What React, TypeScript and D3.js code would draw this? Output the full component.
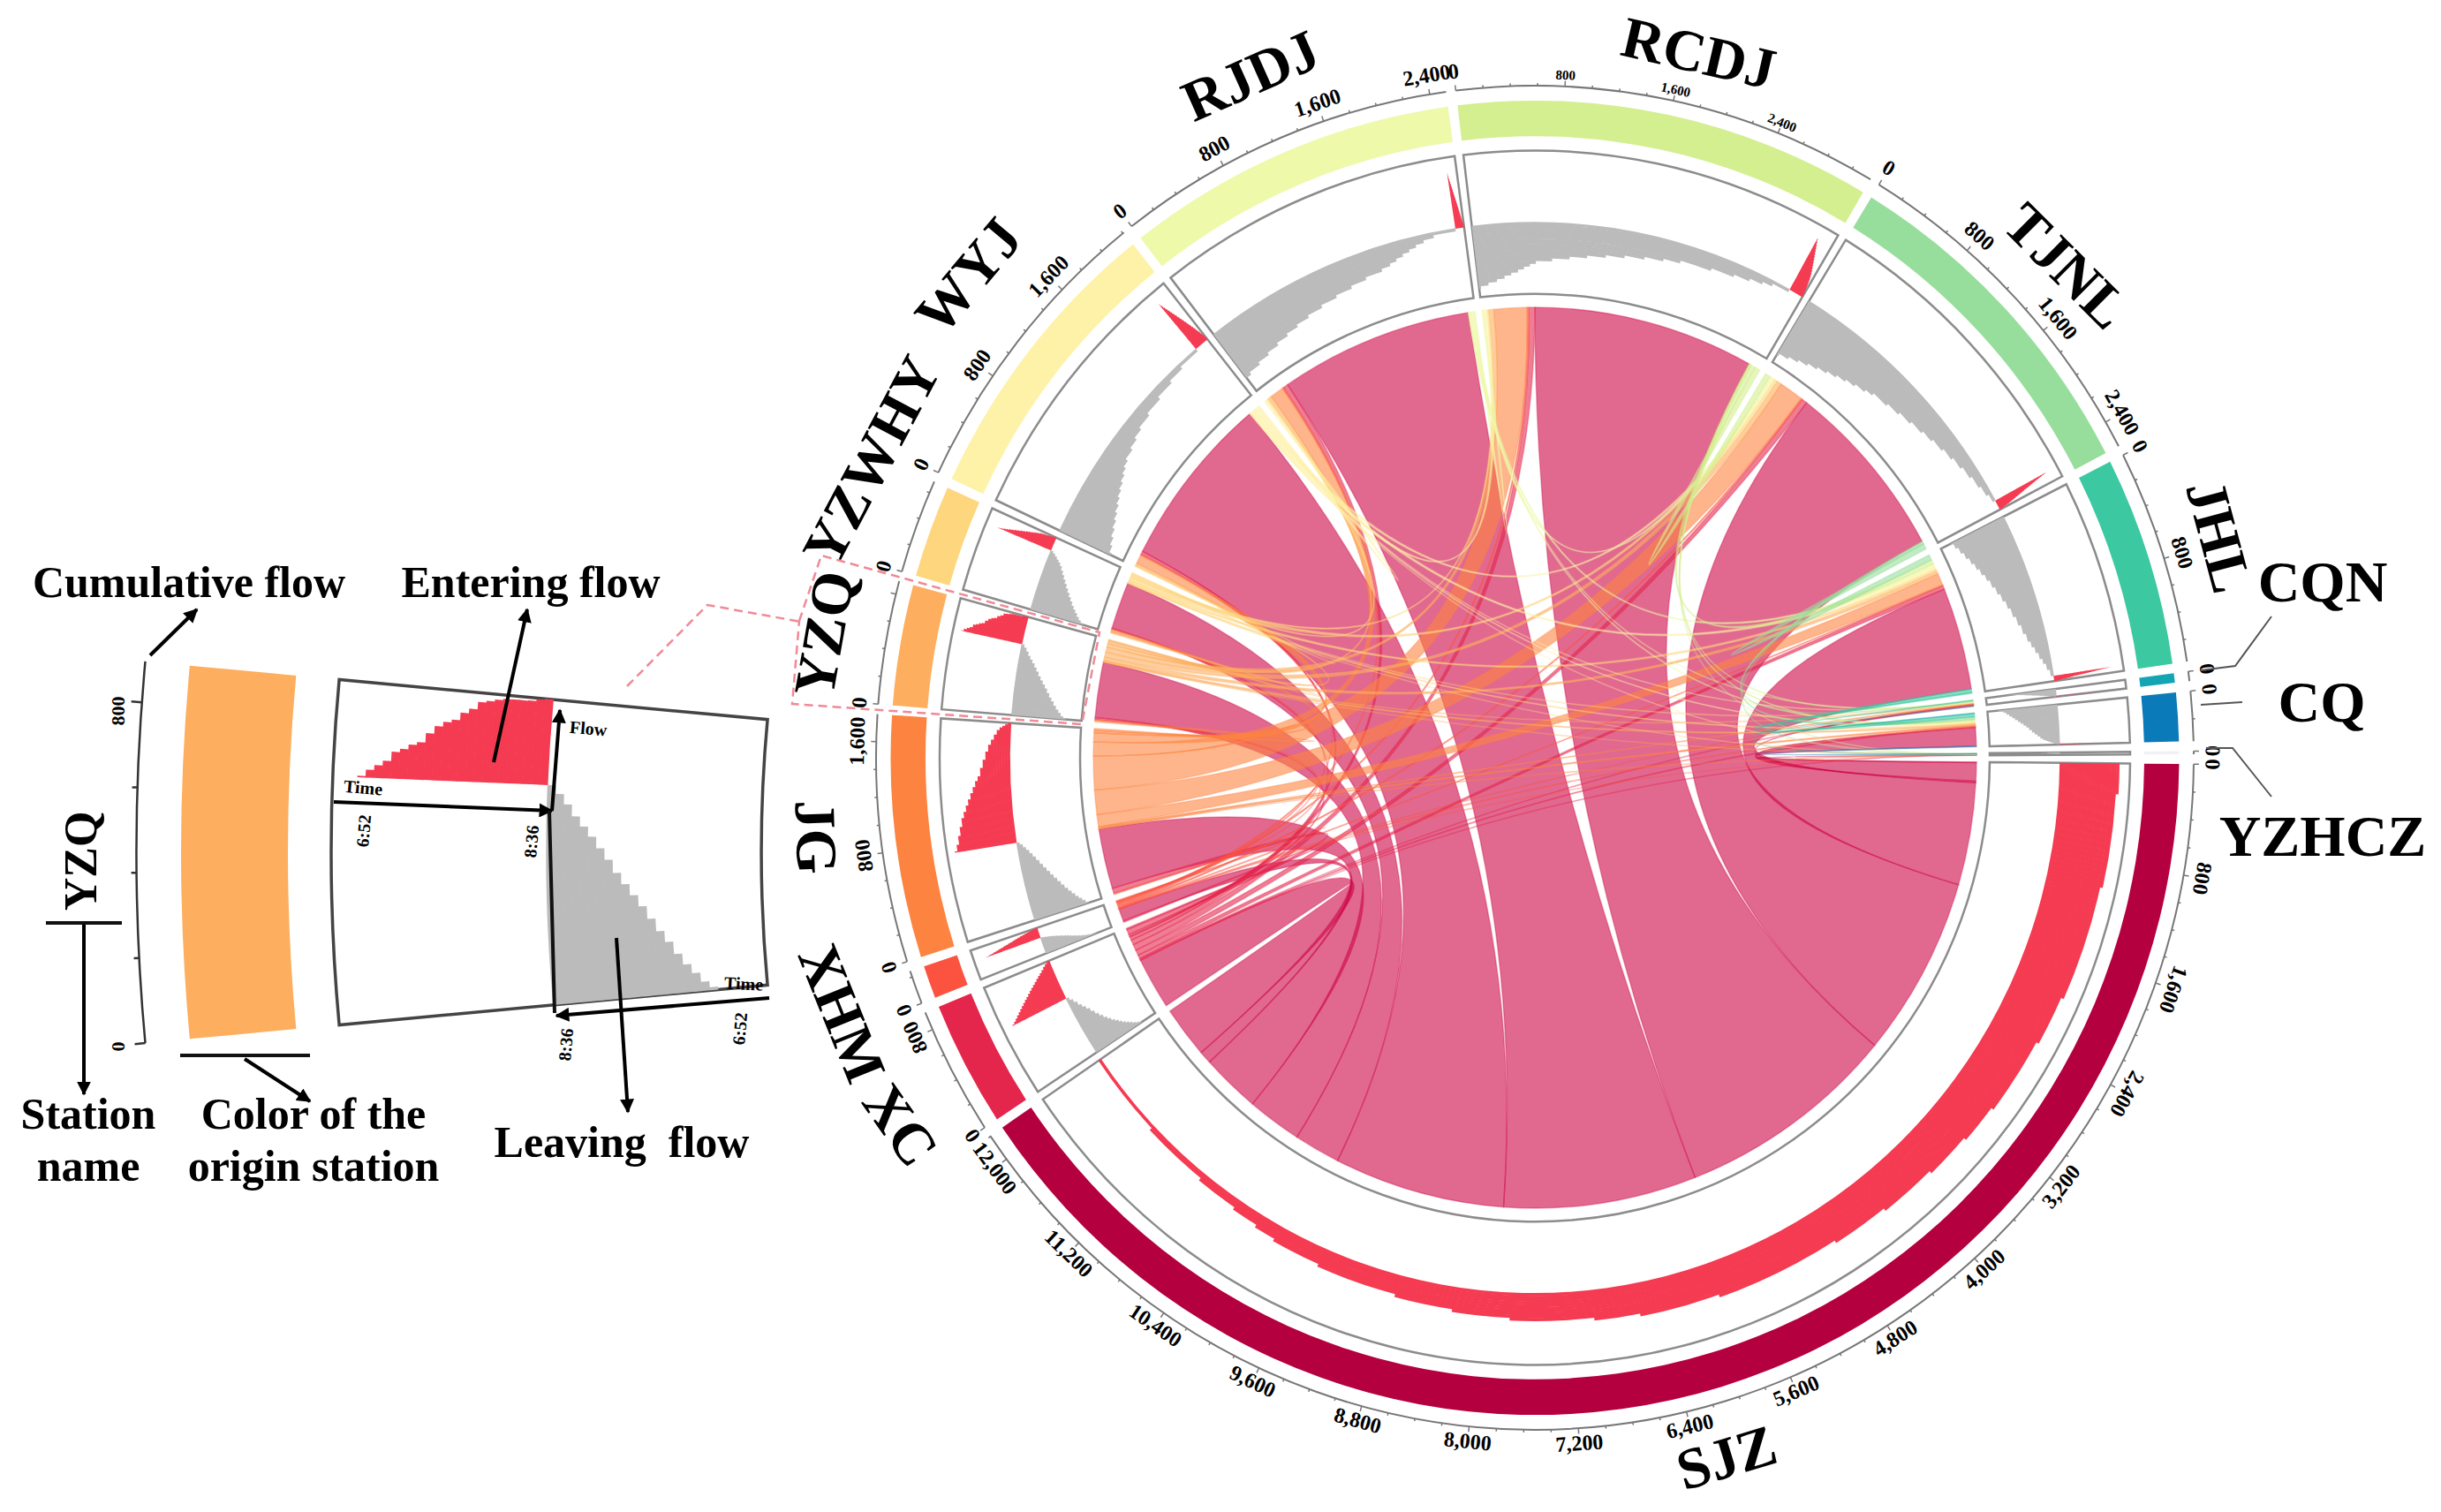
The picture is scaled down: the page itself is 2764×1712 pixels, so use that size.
import { useRef, useEffect } from 'react'
import * as d3 from 'd3'

const stations = ['SJZ', 'XC', 'XHM', 'JG', 'YZQ', 'YZWHY', 'WYJ', 'RJDJ', 'RCDJ', 'TJNL', 'JHL', 'CQN', 'CQ', 'YZHCZ']
const colors = ['#b5003f', '#e4264c', '#fb5340', '#fd8340', '#fdae5e', '#fed67e', '#fef2a9', '#eef9aa', '#d3ef90', '#97de9d', '#3cc8a0', '#14a5b4', '#0b7ab8', '#f2f0f7']
const ribbonColors = ['#cd0546', '#e4264c', '#fb5340', '#fd8340', '#fdae5e', '#fed67e', '#fef2a9', '#eef9aa', '#d3ef90', '#97de9d', '#3cc8a0', '#14a5b4', '#0b7ab8', '#5e4fa2']

// origin -> destination flows, columns follow `stations`
const flowSJZ = [0, 560, 135, 650, 600, 510, 1890, 2130, 2440, 1960, 1110, 15, 200, 5]
const flowXC = [0, 0, 15, 55, 20, 10, 35, 55, 65, 60, 40, 5, 12, 2]
const flowXHM = [0, 0, 0, 12, 5, 3, 10, 15, 20, 15, 8, 1, 5, 1]
const flowJG = [0, 0, 0, 0, 20, 25, 98, 150, 365, 266, 130, 8, 15, 3]
const flowYZQ = [0, 0, 0, 0, 0, 15, 30, 40, 55, 55, 35, 5, 15, 1]
const flowYZWHY = [0, 0, 0, 0, 0, 0, 10, 20, 20, 35, 25, 3, 10, 1]
const flowWYJ = [0, 0, 0, 0, 0, 0, 0, 30, 35, 30, 30, 3, 8, 1]
const flowRJDJ = [0, 0, 0, 0, 0, 0, 0, 0, 20, 25, 25, 3, 8, 0]
const flowRCDJ = [0, 0, 0, 0, 0, 0, 0, 0, 0, 60, 48, 10, 15, 1]
const flowTJNL = [0, 0, 0, 0, 0, 0, 0, 0, 0, 0, 60, 5, 25, 1]
const flowJHL = [0, 0, 0, 0, 0, 0, 0, 0, 0, 0, 0, 8, 38, 1]
const flowCQN = [0, 0, 0, 0, 0, 0, 0, 0, 0, 0, 0, 0, 4, 0]
const flowCQ = [0, 0, 0, 0, 0, 0, 0, 0, 0, 0, 0, 0, 0, 5]
const flowYZHCZ = [0, 0, 0, 0, 0, 0, 0, 0, 0, 0, 0, 0, 0, 0]
const flows = [flowSJZ, flowXC, flowXHM, flowJG, flowYZQ, flowYZWHY, flowWYJ, flowRJDJ, flowRCDJ, flowTJNL, flowJHL, flowCQN, flowCQ, flowYZHCZ]

// cumulative leaving flow per time bin, 6:52 to 8:36
const leaveSJZ = [0, 0, 0, 0, 0, 0, 0, 0, 0, 0, 0, 0, 0, 0, 0, 0, 0, 0, 0, 0, 0, 0, 0, 0, 0, 0]
const leaveXC = [0, 0, 0, 0, 0, 0, 10, 25, 40, 60, 80, 100, 125, 150, 175, 205, 235, 270, 305, 345, 385, 420, 455, 495, 530, 560]
const leaveXHM = [0, 0, 0, 0, 0, 0, 4, 8, 14, 20, 28, 36, 44, 54, 64, 74, 84, 93, 102, 110, 118, 125, 132, 138, 144, 150]
const leaveJG = [0, 0, 0, 0, 0, 10, 40, 70, 100, 135, 170, 205, 245, 285, 325, 365, 405, 445, 485, 525, 565, 600, 635, 665, 695, 717]
const leaveYZQ = [0, 0, 0, 0, 0, 0, 10, 30, 60, 90, 125, 165, 200, 240, 280, 315, 350, 385, 425, 460, 495, 525, 555, 590, 620, 645]
const leaveYZWHY = [0, 0, 0, 0, 0, 0, 15, 35, 60, 90, 120, 150, 185, 220, 255, 290, 325, 360, 395, 430, 465, 490, 510, 530, 548, 563]
const leaveWYJ = [0, 0, 0, 0, 0, 20, 90, 170, 250, 330, 400, 475, 540, 610, 680, 750, 810, 880, 990, 1090, 1190, 1340, 1520, 1700, 1860, 2073]
const leaveRJDJ = [0, 0, 0, 0, 0, 0, 60, 190, 320, 450, 580, 710, 850, 1010, 1180, 1350, 1510, 1680, 1770, 1840, 1910, 1980, 2050, 2130, 2230, 2440]
const leaveRCDJ = [0, 0, 0, 20, 100, 190, 270, 340, 410, 470, 530, 590, 750, 920, 1090, 1270, 1450, 1640, 1820, 1980, 2280, 2500, 2650, 2770, 2860, 3020]
const leaveTJNL = [0, 0, 0, 20, 120, 220, 320, 420, 520, 620, 720, 820, 930, 1010, 1180, 1320, 1460, 1600, 1720, 1850, 1970, 2090, 2210, 2330, 2430, 2506]
const leaveJHL = [0, 0, 0, 0, 15, 70, 140, 210, 280, 350, 420, 490, 570, 650, 730, 810, 900, 990, 1080, 1160, 1220, 1280, 1340, 1390, 1450, 1511]
const leaveCQN = [0, 0, 0, 0, 0, 0, 0, 0, 2, 4, 7, 10, 13, 17, 21, 25, 29, 33, 37, 41, 45, 49, 53, 57, 61, 66]
const leaveCQ = [0, 0, 0, 0, 5, 15, 30, 50, 70, 90, 110, 130, 150, 170, 190, 215, 240, 260, 280, 300, 315, 325, 335, 345, 350, 355]
const leaveYZHCZ = [0, 0, 0, 0, 0, 0, 0, 0, 0, 0, 0, 0, 0, 0, 0, 0, 0, 0, 1, 2, 3, 5, 7, 9, 11, 12]
const leaving = [leaveSJZ, leaveXC, leaveXHM, leaveJG, leaveYZQ, leaveYZWHY, leaveWYJ, leaveRJDJ, leaveRCDJ, leaveTJNL, leaveJHL, leaveCQN, leaveCQ, leaveYZHCZ]

// cumulative entering flow per time bin, 6:52 to 8:36
const enterSJZ = [0, 0, 0, 0, 250, 1020, 1980, 2400, 3060, 3400, 3800, 4300, 4800, 5900, 6600, 7000, 7740, 8250, 8770, 9500, 9950, 10150, 10400, 10800, 11430, 12205]
const enterXC = [0, 0, 0, 0, 7, 22, 40, 58, 75, 92, 110, 127, 145, 162, 180, 197, 215, 232, 250, 267, 285, 302, 320, 340, 358, 374]
const enterXHM = [0, 0, 0, 0, 0, 3, 8, 12, 17, 22, 26, 31, 36, 40, 45, 50, 55, 60, 65, 70, 74, 79, 83, 87, 91, 95]
const enterJG = [0, 0, 0, 10, 60, 130, 200, 270, 320, 370, 420, 470, 520, 570, 610, 680, 750, 820, 880, 925, 970, 1010, 1035, 1050, 1065, 1080]
const enterYZQ = [0, 0, 0, 4, 21, 34, 47, 72, 81, 94, 102, 128, 149, 162, 170, 191, 204, 225, 230, 236, 240, 241, 241, 242, 248, 251]
const enterYZWHY = [0, 0, 0, 0, 0, 3, 8, 14, 20, 27, 34, 41, 48, 55, 62, 69, 76, 83, 90, 97, 104, 108, 111, 115, 120, 124]
const enterWYJ = [0, 0, 0, 0, 0, 4, 11, 18, 25, 32, 39, 46, 53, 60, 67, 74, 81, 88, 95, 102, 109, 115, 121, 127, 132, 137]
const enterRJDJ = [0, 0, 0, 0, 0, 0, 3, 6, 10, 14, 18, 22, 26, 30, 34, 38, 42, 46, 50, 54, 58, 62, 66, 70, 75, 81]
const enterRCDJ = [0, 0, 0, 0, 0, 6, 14, 22, 30, 38, 46, 54, 62, 70, 78, 86, 94, 102, 108, 114, 118, 122, 125, 128, 131, 134]
const enterTJNL = [0, 0, 0, 0, 0, 4, 8, 12, 16, 20, 24, 28, 32, 36, 40, 45, 50, 55, 60, 65, 70, 74, 78, 82, 87, 91]
const enterJHL = [0, 0, 0, 0, 0, 2, 4, 6, 8, 10, 12, 14, 16, 18, 20, 22, 24, 26, 28, 31, 33, 36, 38, 41, 44, 47]
const enterCQN = [0, 0, 0, 0, 0, 0, 0, 0, 0, 0, 0, 0, 1, 1, 1, 1, 2, 2, 2, 2, 3, 3, 3, 3, 4, 4]
const enterCQ = [0, 0, 0, 0, 0, 0, 0, 0, 0, 0, 0, 1, 1, 1, 2, 2, 2, 3, 3, 3, 4, 4, 4, 4, 5, 5]
const enterYZHCZ = [0, 0, 0, 0, 0, 0, 0, 0, 0, 0, 0, 0, 0, 0, 0, 0, 0, 0, 0, 0, 0, 0, 0, 0, 0, 0]
const entering = [enterSJZ, enterXC, enterXHM, enterJG, enterYZQ, enterYZWHY, enterWYJ, enterRJDJ, enterRCDJ, enterTJNL, enterJHL, enterCQN, enterCQ, enterYZHCZ]

const stationLabels: [string, number, number, number][] = [
  ['RJDJ', 1419, 92, -24], ['RCDJ', 1922, 67, 13], ['TJNL', 2335, 306, 45], ['JHL', 2506, 609, 75],
  ['CQN', 2630, 666, 0], ['CQ', 2629, 802, 0], ['YZHCZ', 2630, 954, 0], ['SJZ', 1957, 1657, -17],
  ['XC', 1014, 1278, 55], ['XHM', 947, 1150, 68], ['JG', 917, 948, 88], ['YZQ', 940, 719, -80],
  ['YZWHY', 993, 525, -62], ['WYJ', 1102, 317, -50],
]

const GAP = 0.85
const START = -6.9
const RAD = Math.PI / 180
const fmt = d3.format(',')
const SERIF = '"Liberation Serif", serif'
const TRACK_GREY = '#bbbbbb'
const TRACK_RED = '#f53b52'

const App = () => {
  const ref = useRef<SVGSVGElement>(null)

  useEffect(() => {
    if (!ref.current) return
    const svg = d3.select(ref.current)
    svg.selectAll('*').remove()

    const n = stations.length
    const inTotal = stations.map((_, j) => d3.sum(flows, (row) => row[j]))
    const outTotal = flows.map((row) => d3.sum(row))
    const totals = inTotal.map((v, i) => v + outTotal[i])
    const k = (360 - n * GAP) / d3.sum(totals)

    // segments run clockwise from RCDJ, which sits just left of the top
    const order = d3.range(8, 14).concat(d3.range(0, 8))
    const segStart: number[] = []
    let cursor = START
    order.forEach((i) => {
      segStart[i] = cursor
      cursor += totals[i] * k + GAP
    })
    const angle = stations.map((_, i) =>
      d3.scaleLinear().domain([0, totals[i]]).range([segStart[i], segStart[i] + totals[i] * k]),
    )

    const g = svg.append('g').attr('transform', 'translate(1738,858) scale(1,1.02)')
    const arc = d3.arc<any>()
    const arcPath = (r0: number, r1: number, a0: number, a1: number) =>
      arc({ innerRadius: r0, outerRadius: r1, startAngle: a0 * RAD, endAngle: a1 * RAD }) as string

    // chord ribbons, laid out on each station: in from nearest upstream first, then out to farthest first
    const ribbon = d3.ribbon<any, any>().radius(500)
    const srcPos: number[][] = stations.map(() => [])
    const dstPos: number[][] = stations.map(() => [])
    stations.forEach((_, s) => {
      let v = 0
      for (let o = s - 1; o >= 0; o--) {
        dstPos[o][s] = v
        v += flows[o][s]
      }
      for (let d = n - 1; d > s; d--) {
        srcPos[s][d] = v
        v += flows[s][d]
      }
    })
    const links: any[] = []
    flows.forEach((row, o) =>
      row.forEach((val, d) => {
        if (val > 0) links.push({ o, d, val })
      }),
    )
    g.append('g')
      .selectAll('path')
      .data(links)
      .enter()
      .append('path')
      .attr('d', (l) =>
        ribbon({
          source: { startAngle: angle[l.o](srcPos[l.o][l.d]) * RAD, endAngle: angle[l.o](srcPos[l.o][l.d] + l.val) * RAD },
          target: { startAngle: angle[l.d](dstPos[l.o][l.d]) * RAD, endAngle: angle[l.d](dstPos[l.o][l.d] + l.val) * RAD },
        }) as any,
      )
      .attr('fill', (l) => ribbonColors[l.o])
      .attr('fill-opacity', 0.6)
      .attr('stroke', (l) => ribbonColors[l.o])
      .attr('stroke-opacity', 0.35)
      .attr('stroke-width', 1.5)

    // one station: ring, track box, stepped flows, axis
    const timeLeave = d3.scaleLinear().domain([0, 26]).range([515, 594.5])
    const timeEnter = d3.scaleLinear().domain([0, 26]).range([674, 594.5])

    stations.forEach((name, i) => {
      const a = angle[i]
      const grp = g.append('g')
      grp.append('path').attr('d', arcPath(690, 729.5, a(0), a(totals[i]))).attr('fill', colors[i])
      grp.append('path')
        .attr('d', arcPath(515, 674, a(0), a(totals[i])))
        .attr('fill', 'none')
        .attr('stroke', '#8c8c8c')
        .attr('stroke-width', 2.5)

      grp.append('g')
        .selectAll('path')
        .data(leaving[i])
        .enter()
        .append('path')
        .attr('d', (v, t) => (v > 0 ? arcPath(timeLeave(t) - 0.3, timeLeave(t + 1) + 0.3, a(0), a(v)) : ''))
        .attr('fill', TRACK_GREY)
      grp.append('g')
        .selectAll('path')
        .data(entering[i])
        .enter()
        .append('path')
        .attr('d', (v, t) => (v > 0 ? arcPath(timeEnter(t + 1) - 0.3, timeEnter(t) + 0.3, a(inTotal[i]), a(inTotal[i] + v)) : ''))
        .attr('fill', TRACK_RED)

      // axis
      grp.append('path')
        .attr('d', arcPath(746, 746, a(0), a(totals[i])))
        .attr('fill', 'none')
        .attr('stroke', '#777')
        .attr('stroke-width', 2)
      const ticks = d3.range(0, totals[i], 200)
      ticks.forEach((v) => {
        const deg = a(v)
        const len = v % 800 === 0 ? 6 : 3
        grp.append('line')
          .attr('x1', 746 * Math.sin(deg * RAD))
          .attr('y1', -746 * Math.cos(deg * RAD))
          .attr('x2', (746 + len) * Math.sin(deg * RAD))
          .attr('y2', -(746 + len) * Math.cos(deg * RAD))
          .attr('stroke', '#777')
          .attr('stroke-width', 1.5)
        // labels crowding the end of a sector are left out, as in the source figure
        if (v === 0 || (v % 800 === 0 && v <= totals[i] - 100)) {
          const norm = (deg + 360) % 360
          const rot = norm > 125 && norm < 240 ? norm - 180 : norm
          const size = name === 'RCDJ' && v > 0 ? 15 : 24
          const r = name === 'RCDJ' && v > 0 ? 757 : 765
          grp.append('text')
            .attr('transform', `translate(${r * Math.sin(deg * RAD)},${-r * Math.cos(deg * RAD)}) rotate(${rot})`)
            .attr('text-anchor', 'middle')
            .attr('dominant-baseline', 'middle')
            .attr('font-family', SERIF)
            .attr('font-weight', 'bold')
            .attr('font-size', size)
            .text(fmt(v))
        }
      })
    })

    // station names
    svg.append('g')
      .selectAll('text')
      .data(stationLabels)
      .enter()
      .append('text')
      .attr('transform', (d) => `translate(${d[1]},${d[2]}) rotate(${d[3]})`)
      .attr('text-anchor', 'middle')
      .attr('dominant-baseline', 'middle')
      .attr('font-family', SERIF)
      .attr('font-weight', 'bold')
      .attr('font-size', 66)
      .text((d) => d[0])

    // leaders for the three narrow stations
    const leaders = [
      [[2492, 759], [2531, 754], [2572, 698]],
      [[2492, 798], [2539, 795]],
      [[2498, 847], [2528, 847], [2572, 902]],
    ]
    const line = d3.line()
    leaders.forEach((pts) => {
      svg.append('path').attr('d', line(pts as any)).attr('fill', 'none').attr('stroke', '#555').attr('stroke-width', 2)
    })

    // magnified YZQ key on the left
    const key = svg.append('g').attr('transform', 'translate(2480,965)')
    const keyR = d3.scaleLinear().domain([729.5, 690]).range([2275, 2154])
    const yzq = stations.indexOf('YZQ')
    const keyA = d3.scaleLinear().domain([0, totals[yzq]]).range([270 - (totals[yzq] * k) / 2, 270 + (totals[yzq] * k) / 2])
    key.append('path').attr('d', arcPath(keyR(690), keyR(729.5), keyA(0), keyA(totals[yzq]))).attr('fill', colors[yzq])
    key.append('path')
      .attr('d', arcPath(keyR(515), keyR(674), keyA(0), keyA(totals[yzq])))
      .attr('fill', 'none')
      .attr('stroke', '#444')
      .attr('stroke-width', 3.5)
    key.append('g')
      .selectAll('path')
      .data(leaving[yzq])
      .enter()
      .append('path')
      .attr('d', (v, t) => (v > 0 ? arcPath(keyR(timeLeave(t)) - 0.3, keyR(timeLeave(t + 1)) + 0.3, keyA(0), keyA(v)) : ''))
      .attr('fill', TRACK_GREY)
    key.append('g')
      .selectAll('path')
      .data(entering[yzq])
      .enter()
      .append('path')
      .attr('d', (v, t) => (v > 0 ? arcPath(keyR(timeEnter(t + 1)) - 0.3, keyR(timeEnter(t)) + 0.3, keyA(inTotal[yzq]), keyA(inTotal[yzq] + v)) : ''))
      .attr('fill', TRACK_RED)
    key.append('path')
      .attr('d', arcPath(keyR(746), keyR(746), keyA(0), keyA(totals[yzq])))
      .attr('fill', 'none')
      .attr('stroke', '#333')
      .attr('stroke-width', 2.5)
    d3.range(0, 1000, 200).forEach((v) => {
      const deg = keyA(v)
      const r0 = keyR(746)
      const r1 = r0 + (v % 800 === 0 ? 12 : 6)
      key.append('line')
        .attr('x1', r0 * Math.sin(deg * RAD))
        .attr('y1', -r0 * Math.cos(deg * RAD))
        .attr('x2', r1 * Math.sin(deg * RAD))
        .attr('y2', -r1 * Math.cos(deg * RAD))
        .attr('stroke', '#333')
        .attr('stroke-width', 2.5)
    })

    // key annotations
    const defs = svg.append('defs')
    defs.append('marker')
      .attr('id', 'head')
      .attr('viewBox', '0 0 10 10')
      .attr('refX', 9)
      .attr('refY', 5)
      .attr('markerWidth', 4)
      .attr('markerHeight', 4)
      .attr('orient', 'auto')
      .append('path')
      .attr('d', 'M0,0L10,5L0,10z')
      .attr('fill', '#000')

    const arrows = [
      [170, 742, 223, 690], [95, 1045, 95, 1239], [277, 1199, 351, 1247], [559, 863, 597, 690], [698, 1062, 711, 1259],
      [378, 908, 625, 918], [625, 918, 634, 804], [871, 1130, 630, 1150],
    ]
    arrows.forEach(([x1, y1, x2, y2]) => {
      svg.append('line')
        .attr('x1', x1).attr('y1', y1).attr('x2', x2).attr('y2', y2)
        .attr('stroke', '#000')
        .attr('stroke-width', 4)
        .attr('marker-end', 'url(#head)')
    })
    const plain = [
      [52, 1045, 138, 1045], [204, 1195, 351, 1195], [622, 918, 628, 1147],
    ]
    plain.forEach(([x1, y1, x2, y2]) => {
      svg.append('line')
        .attr('x1', x1).attr('y1', y1).attr('x2', x2).attr('y2', y2)
        .attr('stroke', '#111')
        .attr('stroke-width', 4)
    })

    const keyTexts: [string, number, number, number, number][] = [
      ['Cumulative flow', 214, 665, 50, 0], ['Entering flow', 601, 665, 50, 0],
      ['Station', 100, 1267, 50, 0], ['name', 100, 1326, 50, 0],
      ['Color of the', 355, 1267, 50, 0], ['origin station', 355, 1326, 50, 0],
      ['Leaving  flow', 704, 1299, 50, 0], ['YZQ', 97, 975, 52, -90],
      ['800', 136, 805, 22, -90], ['0', 136, 1185, 22, -90],
      ['6:52', 414, 941, 20, -85], ['8:36', 604, 953, 20, -85],
      ['8:36', 643, 1183, 20, -85], ['6:52', 840, 1165, 20, -85],
      ['Flow', 666, 827, 20, 5], ['Time', 411, 894, 20, 5], ['Time', 842, 1116, 20, 3],
    ]
    svg.append('g')
      .selectAll('text')
      .data(keyTexts)
      .enter()
      .append('text')
      .attr('transform', (d) => `translate(${d[1]},${d[2]}) rotate(${d[4]})`)
      .attr('text-anchor', 'middle')
      .attr('dominant-baseline', 'middle')
      .attr('font-family', SERIF)
      .attr('font-weight', 'bold')
      .attr('font-size', (d) => d[3])
      .style('white-space', 'pre')
      .text((d) => d[0])

    // dashed callout from the YZQ sector to the key
    const dash = [
      [[710, 777], [801, 685], [907, 704]],
      [[905, 703], [930, 629], [1245, 716], [1225, 820], [897, 797], [905, 703]],
    ]
    dash.forEach((pts) => {
      svg.append('path')
        .attr('d', line(pts as any))
        .attr('fill', 'none')
        .attr('stroke', '#f08a96')
        .attr('stroke-width', 2.5)
        .attr('stroke-dasharray', '10,6')
    })
  }, [])

  return <svg ref={ref} width={2764} height={1712} style={{ position: 'absolute', left: 0, top: 0, background: '#fff' }} />
}

export default App
